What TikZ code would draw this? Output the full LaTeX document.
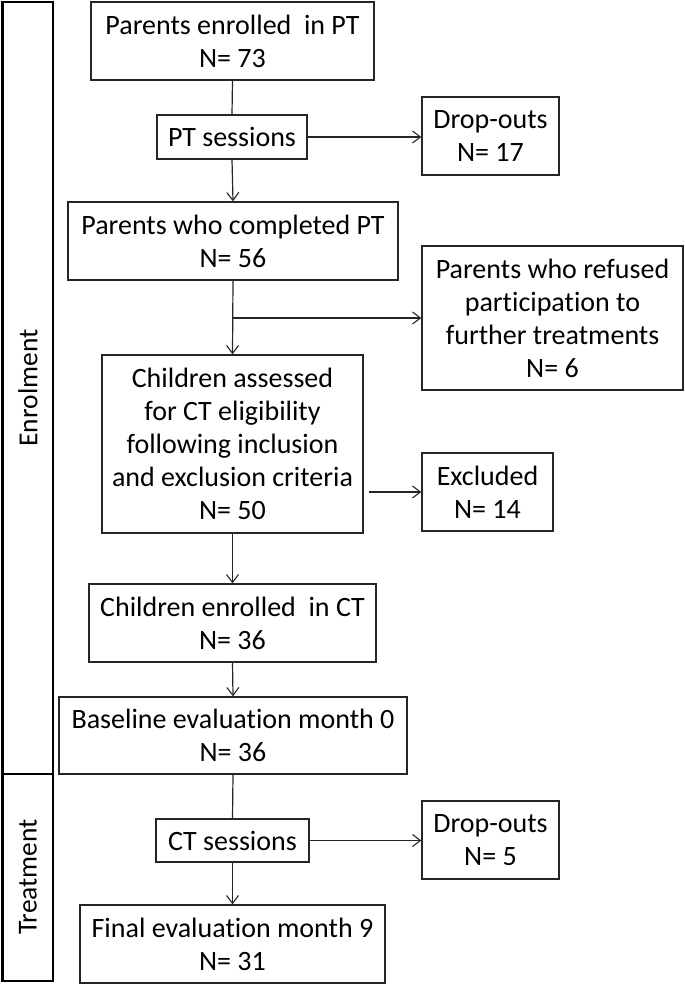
\documentclass[tikz,border=0pt]{standalone}
\usepackage{fontspec}
\setmainfont{Carlito}[Ligatures=NoCommon]
\usetikzlibrary{arrows.meta,calc}
\begin{document}
\begin{tikzpicture}[x=1pt,y=-1pt,
  box/.style={draw=black!85, line width=1.3pt, inner sep=0pt, align=center,
    font=\fontsize{28}{33}\selectfont},
  sidebox/.style={draw=black, line width=2.6pt},
  sidelabel/.style={rotate=90, font=\fontsize{27.5}{33}\selectfont},
  link/.style={line width=1.2pt, draw=black!85},
  arr/.style={link, -{Straight Barb[length=8pt,width=12pt,line width=1.1pt]}}]
\useasboundingbox (0,0) rectangle (685,985);

% side bars
\draw[sidebox] (2.5,2) rectangle (53,774);
\draw[sidebox] (2.5,774) rectangle (53,981);
\node[sidelabel] (lenr) at (28,388) {Enrolment};
\node[sidelabel] (ltre) at (28,877) {Treatment};

% boxes
\node[box, minimum width=283, minimum height=78] (enr73) at (232.5,41) {Parents enrolled~ in PT\\N= 73};
\node[box, minimum width=150, minimum height=44] (ptsess) at (232,137) {PT sessions};
\node[box, minimum width=137, minimum height=78] (drop17) at (490.5,136) {Drop-outs\\N= 17};
\node[box, minimum width=330, minimum height=78] (comp56) at (233,241) {Parents who completed PT\\N= 56};
\node[box, minimum width=261, minimum height=144] (refused) at (552.5,318) {Parents who refused\\participation to\\further treatments\\N= 6};
\node[box, minimum width=261, minimum height=178] (assessed) at (232.5,444) {Children assessed\\for CT eligibility\\following inclusion\\and exclusion criteria\\N= 50};
\node[box, minimum width=131, minimum height=78] (excl) at (487.5,492) {Excluded\\N= 14};
\node[box, minimum width=287, minimum height=78] (ct36) at (232.5,623) {Children enrolled~ in CT\\N= 36};
\node[box, minimum width=348, minimum height=77] (base) at (233,735.5) {Baseline evaluation month 0\\N= 36};
\node[box, minimum width=153, minimum height=43] (ctsess) at (232.5,840.5) {CT sessions};
\node[box, minimum width=137, minimum height=78] (drop5) at (490.5,840) {Drop-outs\\N= 5};
\node[box, minimum width=305, minimum height=78] (final) at (232.5,944) {Final evaluation month 9\\N= 31};

% connectors
\draw[link] (enr73.south) -- (ptsess.north);
\draw[arr] (ptsess.south) -- (comp56.north);
\draw[arr] (ptsess.east) -- (ptsess.east -| drop17.west);
\coordinate (br) at (comp56.south |- refused.west);
\draw[arr] (comp56.south) -- (assessed.north);
\draw[arr] (br) -- (refused.west);
\draw[arr] ([xshift=5pt]assessed.east |- excl.west) -- (excl.west);
\draw[arr] (assessed.south) -- (ct36.north);
\draw[arr] (ct36.south) -- (base.north);
\draw[link] (base.south) -- (ctsess.north);
\draw[arr] (ctsess.east) -- (ctsess.east -| drop5.west);
\draw[arr] (ctsess.south) -- (final.north);
\end{tikzpicture}
\end{document}
